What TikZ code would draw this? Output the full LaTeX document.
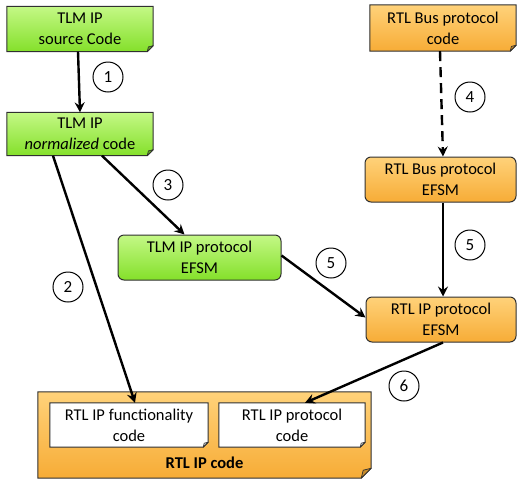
\documentclass[tikz,border=0pt]{standalone}
\usepackage{fontspec}
\setmainfont{Carlito}
\usetikzlibrary{arrows.meta,backgrounds,calc}

\definecolor{gtop}{HTML}{C4F886}
\definecolor{gbot}{HTML}{84E02A}
\definecolor{otop}{HTML}{FFD27A}
\definecolor{obot}{HTML}{F7AC36}
\definecolor{edge}{HTML}{303030}

\tikzset{
  lbl/.style={align=center, font=\fontsize{16.5}{21}\selectfont, inner sep=0pt},
  efsm/.style={lbl, draw=edge, line width=1pt, rounded corners=6pt},
  greenfill/.style={top color=gtop, bottom color=gbot},
  orangefill/.style={top color=otop, bottom color=obot},
  whitefill/.style={fill=white},
  flow/.style={line width=2.4pt, -{Stealth[length=10pt, width=10pt, inset=3.5pt]}},
  stepno/.style={circle, draw, line width=1pt, minimum size=30pt, inner sep=0pt,
    font=\fontsize{17}{17}\selectfont},
}

% sheet with a folded lower right corner behind node #1:
% #2 fill style, #3 fold colour, #4 fold size
\newcommand\sheet[4]{%
  \begin{pgfonlayer}{background}
    \path[#2, draw=edge, line width=1pt]
      (#1.north west) -- (#1.north east) -- ([yshift=#4]#1.south east)
      -- ([xshift=-#4]#1.south east) -- (#1.south west) -- cycle;
    \path[fill=#3, draw=edge, line width=0.7pt, line join=round]
      ([yshift=#4]#1.south east) -- ([xshift=-#4]#1.south east)
      -- ([xshift=-0.8*#4, yshift=0.8*#4]#1.south east) -- cycle;
  \end{pgfonlayer}}

\begin{document}
\begin{tikzpicture}[x=1pt, y=-1pt]
  \useasboundingbox (0,0) rectangle (518,485);

  % document sheets
  \node[lbl, minimum width=146pt, minimum height=45pt] (src) at (80,29)
    {TLM IP\\source Code};
  \node[lbl, minimum width=146pt, minimum height=43pt] (norm) at (80,134)
    {TLM IP\\\textit{normalized} code};
  \node[lbl, minimum width=146pt, minimum height=46pt] (busc) at (443,28)
    {RTL Bus protocol\\code};

  % state machines
  \node[efsm, greenfill, minimum width=163pt, minimum height=45pt] (tlmefsm) at (199.5,257.5)
    {TLM IP protocol\\EFSM};
  \node[efsm, orangefill, minimum width=151pt, minimum height=45pt] (busefsm) at (440.5,179.5)
    {RTL Bus protocol\\EFSM};
  \node[efsm, orangefill, minimum width=150pt, minimum height=45pt] (rtlefsm) at (441,319.5)
    {RTL IP protocol\\EFSM};

  % RTL IP code container
  \node[lbl, minimum width=333pt, minimum height=86pt] (big) at (204.5,435) {};
  \node[lbl, minimum width=158pt, minimum height=44pt] (func) at (129,425)
    {RTL IP functionality\\code};
  \node[lbl, minimum width=146pt, minimum height=44pt] (pcode) at (292,425)
    {RTL IP protocol\\code};
  \node[lbl, font=\fontsize{16.5}{21}\selectfont\bfseries] (bigtxt) at (204.5,463) {RTL IP code};

  \sheet{src}{greenfill}{gbot!75!black}{6pt}
  \sheet{norm}{greenfill}{gbot!75!black}{6pt}
  \sheet{busc}{orangefill}{obot!80!black}{6pt}
  \sheet{big}{orangefill}{obot!80!black}{10pt}
  \sheet{func}{whitefill}{black!15}{5pt}
  \sheet{pcode}{whitefill}{black!15}{5pt}

  % connectors
  \draw[flow] ([xshift=-2pt]src.south) -- ([xshift=0pt]norm.north);
  \draw[flow] ([xshift=-27pt]norm.south) -- ([xshift=6pt]func.north);
  \draw[flow] ([xshift=22pt]norm.south) -- ([xshift=-15pt]tlmefsm.north);
  \draw[flow, dashed, dash pattern=on 10pt off 6pt] ([xshift=-3pt]busc.south) -- ([xshift=2.5pt]busefsm.north);
  \draw[flow] ([xshift=2.5pt]busefsm.south) -- ([xshift=2pt]rtlefsm.north);
  \draw[flow] ([yshift=2pt]tlmefsm.east) -- ([yshift=2pt]rtlefsm.west);
  \draw[flow] ([xshift=2pt]rtlefsm.south) -- ([xshift=13pt]pcode.north);

  % step numbers
  \node[stepno] (n1) at (108,77) {1};
  \node[stepno] (n2) at (68,287) {2};
  \node[stepno] (n3) at (168,185) {3};
  \node[stepno] (n4) at (470,97) {4};
  \node[stepno] (n5a) at (331,263) {5};
  \node[stepno] (n5b) at (470,245) {5};
  \node[stepno] (n6) at (404,386) {6};
\end{tikzpicture}
\end{document}
